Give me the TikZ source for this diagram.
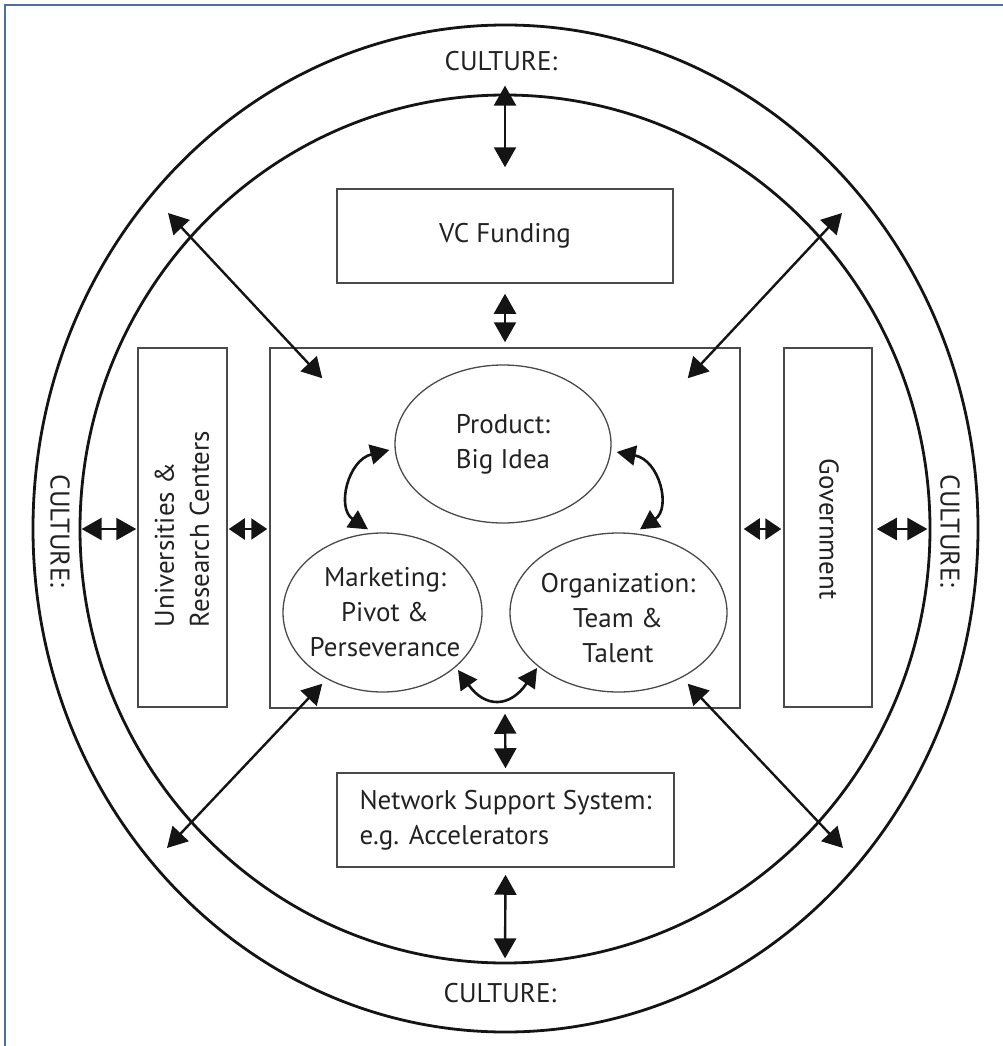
\documentclass[tikz,border=0pt]{standalone}
\usepackage{fontspec}
\setmainfont{PT Sans}
\usetikzlibrary{arrows.meta,shapes.geometric}
\definecolor{framec}{HTML}{4A6FA5}
\definecolor{txt}{HTML}{222222}
\definecolor{boxc}{HTML}{4A4A4A}
\definecolor{arrc}{HTML}{141414}
\begin{document}
\begin{tikzpicture}[x=1pt,y=-1pt,
  lbl/.style={font=\fontsize{27}{35}\selectfont, text=txt, inner sep=0pt},
  band/.style={draw=arrc, line width=2.8pt, ellipse, inner sep=0pt},
  boxr/.style={draw=boxc, line width=1.5pt, rectangle, inner sep=0pt},
  bubble/.style={draw=boxc, line width=1.3pt, ellipse, inner sep=0pt},
  dbl/.style={line width=2.4pt, draw=arrc, {Triangle[length=20pt,width=22pt]}-{Triangle[length=20pt,width=22pt]}},
  sdbl/.style={line width=2.4pt, draw=arrc, {Triangle[length=16pt,width=21pt]}-{Triangle[length=16pt,width=21pt]}},
  cdbl/.style={line width=2.6pt, draw=arrc, {Triangle[length=19pt,width=20pt]}-{Triangle[length=19pt,width=20pt]}},
]
\useasboundingbox (0,0) rectangle (1003,1046);
\draw[framec, line width=2pt] (5,1046) -- (5,5) -- (1003,5);

% rings
\node[band, minimum width=945pt, minimum height=1007pt] (outer) at (505.5,528.5) {};
\node[band, minimum width=850pt, minimum height=868pt] (inner) at (505,529) {};

% culture labels
\node[lbl] (ct) at (501,61) {CULTURE:};
\node[lbl] (cb) at (500,993) {CULTURE:};
\node[lbl, rotate=-90] (cl) at (60,531) {CULTURE:};
\node[lbl, rotate=-90] (cr) at (950,531) {CULTURE:};

% boxes
\node[boxr, minimum width=336pt, minimum height=94pt] (vc) at (505,236) {};
\node[lbl] (vctxt) at (vc.center) {VC Funding};
\node[boxr, minimum width=470pt, minimum height=360pt] (core) at (505,528) {};
\node[boxr, minimum width=89pt, minimum height=359pt] (uni) at (182.5,527.5) {};
\node[lbl, rotate=90, align=left] (unitxt) at (182,529) {Universities \&\\Research Centers};
\node[boxr, minimum width=88pt, minimum height=359pt] (gov) at (828,527.5) {};
\node[lbl, rotate=-90] (govtxt) at (829,529) {Government};
\node[boxr, minimum width=337pt, minimum height=94pt] (net) at (505.5,820) {};
\node[lbl, align=left] (nettxt) at (net.center) {Network Support System:\\e.g. Accelerators};

% bubbles
\node[bubble, minimum width=216pt, minimum height=158pt] (prod) at (503,444) {};
\node[lbl, align=center] (prodtxt) at (prod.center) {Product:\\Big Idea};
\node[bubble, minimum width=199pt, minimum height=159pt] (mkt) at (382.5,612.5) {};
\node[lbl, align=center] (mkttxt) at (385,612.5) {Marketing:\\Pivot \&\\Perseverance};
\node[bubble, minimum width=217pt, minimum height=159pt] (org) at (618.5,612.5) {};
\node[lbl, align=center] (orgtxt) at (618,618) {Organization:\\Team \&\\Talent};

% free ends of diagonal arrows
\coordinate (tl) at (168,213);
\coordinate (tr) at (842,213);
\coordinate (bl) at (167,848);
\coordinate (br) at (843,848);

% vertical arrows
\draw[dbl] ([yshift=8pt]inner.north) -- ([yshift=21pt]vc.north);
\draw[dbl] ([yshift=-10pt]vc.south) -- ([yshift=5pt]core.north);
\draw[dbl] ([yshift=-5pt]core.south) -- ([yshift=4pt]net.north);
\draw[dbl] ([yshift=-7pt]net.south) -- ([yshift=6pt]inner.south);

% horizontal arrows
\draw[dbl] ([xshift=3pt]inner.west) -- ([xshift=-1pt]uni.west |- inner.west);
\draw[sdbl] ([xshift=1pt]uni.east |- inner.west) -- ([xshift=-2pt]core.west |- inner.west);
\draw[sdbl] ([xshift=3pt]core.east |- inner.east) -- ([xshift=-2pt]gov.west |- inner.east);
\draw[dbl] ([xshift=4pt]gov.east |- inner.east) -- ([xshift=-4pt]inner.east);

% diagonal arrows
\draw[dbl] (tl) -- ([shift={(53,31)}]core.north west);
\draw[dbl] (tr) -- ([shift={(-53,31)}]core.north east);
\draw[dbl] (bl) -- ([shift={(53,-25)}]core.south west);
\draw[dbl] (br) -- ([shift={(-53,-25)}]core.south east);

% curved arrows between bubbles
\draw[cdbl] ([shift={(-5,6)}]prod.west) .. controls (348,460) and (336,508) .. ([shift={(-14.5,-3)}]mkt.north);
\draw[cdbl] ([shift={(5,8)}]prod.east) .. controls (659.5,460) and (671.5,508) .. ([shift={(21.5,-3)}]org.north);
\draw[cdbl] ([shift={(75.5,57.5)}]mkt.center) .. controls (485,708) and (510,708) .. ([shift={(-81.5,55.5)}]org.center);
\end{tikzpicture}
\end{document}
